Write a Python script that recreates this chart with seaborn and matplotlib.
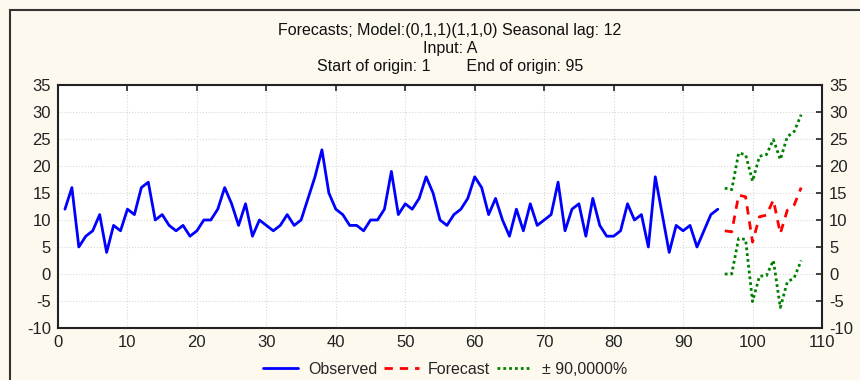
import numpy as np
import pandas as pd
import matplotlib
matplotlib.use("Agg")
import matplotlib.pyplot as plt
from matplotlib.patches import Rectangle
import seaborn as sns

# --- data ---
observed_x = list(range(1, 96))
observed = [12, 16, 5, 7, 8, 11, 4, 9, 8, 12,
            11, 16, 17, 10, 11, 9, 8, 9, 7, 8,
            10, 10, 12, 16, 13, 9, 13, 7, 10, 9,
            8, 9, 11, 9, 10, 14, 18, 23, 15, 12,
            11, 9, 9, 8, 10, 10, 12, 19, 11, 13,
            12, 14, 18, 15, 10, 9, 11, 12, 14, 18,
            16, 11, 14, 10, 7, 12, 8, 13, 9, 10,
            11, 17, 8, 12, 13, 7, 14, 9, 7, 7,
            8, 13, 10, 11, 5, 18, 11, 4, 9, 8,
            9, 5, 8, 11, 12]

forecast_x = list(range(96, 108))
forecast = [8.0, 7.8, 14.6, 14.3, 5.9, 10.6, 10.9, 13.7, 7.5, 11.8, 12.8, 16.0]
upper = [15.9, 15.6, 22.4, 22.1, 17.2, 21.8, 22.1, 24.9, 21.2, 25.4, 26.4, 29.5]
lower = [0.0, 0.0, 6.6, 6.4, -5.1, -0.4, -0.3, 2.5, -6.2, -1.5, -0.7, 2.5]

title_lines = ["Forecasts; Model:(0,1,1)(1,1,0) Seasonal lag: 12",
               "Input: A",
               "Start of origin: 1        End of origin: 95"]
x_ticks = list(range(0, 111, 10))
y_ticks = list(range(-10, 36, 5))

sns.set_style("white")
plt.rcParams['font.family'] = ['Liberation Sans', 'DejaVu Sans']
plt.rcParams['axes.unicode_minus'] = False

bg = '#fdf9ee'
fig = plt.figure(figsize=(8.6, 3.8), dpi=100, facecolor=bg)
ax = fig.add_axes([58 / 860, 52 / 380, 764 / 860, 243 / 380])
ax.set_facecolor('white')

obs_df = pd.DataFrame({'x': observed_x, 'y': observed})
fc_df = pd.DataFrame({'x': forecast_x, 'forecast': forecast, 'upper': upper, 'lower': lower})

sns.lineplot(data=obs_df, x='x', y='y', ax=ax, color='#0000ff', linewidth=2,
             label='Observed')
sns.lineplot(data=fc_df, x='x', y='forecast', ax=ax, color='#ff0000', linewidth=2,
             linestyle=(0, (3, 2.5)), label='Forecast')
sns.lineplot(data=fc_df, x='x', y='upper', ax=ax, color='#008000', linewidth=2,
             linestyle=(0, (1, 1.1)), label='\u00b1 90,0000%')
sns.lineplot(data=fc_df, x='x', y='lower', ax=ax, color='#008000', linewidth=2,
             linestyle=(0, (1, 1.1)))

ax.set_xlim(0, 110)
ax.set_ylim(-10, 35)
ax.set_xticks(x_ticks)
ax.set_yticks(y_ticks)
ax.set_xlabel('')
ax.set_ylabel('')
ax.grid(True, linestyle=':', color='#d8d8d8', linewidth=0.8)
ax.tick_params(direction='in', length=4, width=1.2, top=True, right=True,
               labelright=True, labelsize=12, colors='#222222', pad=5)
for s in ax.spines.values():
    s.set_color('#222222')
    s.set_linewidth(1.5)

# legend below the plot
handles, labels = ax.get_legend_handles_labels()
ax.get_legend().remove()
fig.legend(handles[:3], labels[:3], loc='center', bbox_to_anchor=(445 / 860, 1 - 369 / 380),
           ncol=3, frameon=False, fontsize=11.5, handlelength=2.2, handletextpad=0.6,
           columnspacing=0.4)

# title block
for txt, y in zip(title_lines, [30, 48, 67]):
    fig.text(450 / 860, 1 - y / 380, txt, ha='center', va='center', fontsize=11.5,
             color='#111111')

# outer frame (only top and left edges visible in the crop)
fig.patches.append(Rectangle((10 / 860, -0.1), 1.2, 1 - 10 / 380 + 0.1,
                             transform=fig.transFigure, fill=False,
                             edgecolor='#333333', linewidth=1.5))

fig.savefig('out.png', dpi=100, facecolor=bg)
